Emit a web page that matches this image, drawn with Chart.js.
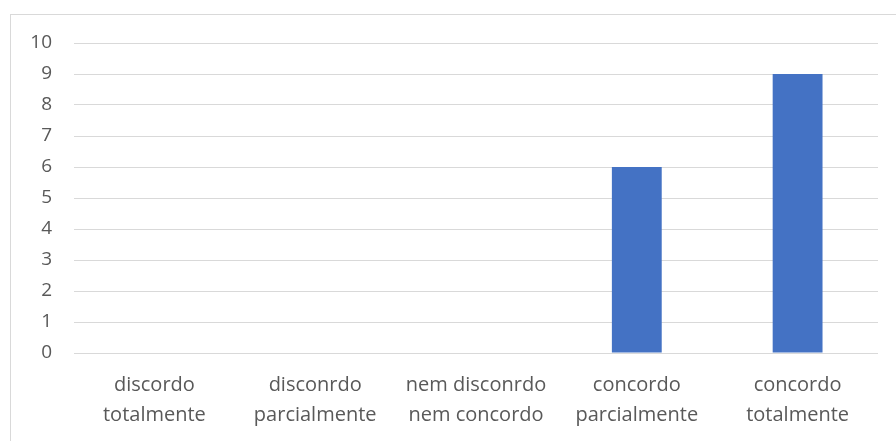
<!DOCTYPE html>
<html>
<head>
<meta charset="utf-8">
<script src="https://cdn.jsdelivr.net/npm/chart.js@4"></script>
<style>
  html, body { margin: 0; padding: 0; background: #fff; }
  #wrap { position: relative; width: 896px; height: 441px; overflow: hidden; }
  #frame { position: absolute; left: 10px; top: 14px; width: 900px; height: 440px; border: 1px solid #d9d9d9; }
  canvas { position: absolute; left: 0; top: 0; }
</style>
</head>
<body>
<div id="wrap">
  <div id="frame"></div>
  <canvas id="mainChart" width="896" height="441"></canvas>
</div>
<script>
const categories = [
  ['discordo', 'totalmente'],
  ['disconrdo', 'parcialmente'],
  ['nem disconrdo', 'nem concordo'],
  ['concordo', 'parcialmente'],
  ['concordo', 'totalmente'],
];
const values = [0, 0, 0, 6, 9];
const yTicks = [0, 1, 2, 3, 4, 5, 6, 7, 8, 9, 10];

const textColor = '#595959';
const fontFamily = "'Open Sans', 'Noto Sans', sans-serif";

const ctx = document.getElementById('mainChart').getContext('2d');

new Chart(ctx, {
  type: 'bar',
  data: {
    labels: categories,
    datasets: [
      {
        data: values,
        backgroundColor: '#4472c4',
        borderWidth: 0,
        barPercentage: 0.31,
        categoryPercentage: 1,
      },
    ],
  },
  options: {
    responsive: false,
    animation: false,
    layout: { padding: { left: 0, top: 43, right: 18, bottom: 0 } },
    plugins: {
      legend: { display: false },
      tooltip: { enabled: false },
    },
    scales: {
      x: {
        grid: { display: false, drawTicks: false },
        border: { display: false },
        ticks: {
          color: textColor,
          font: { family: fontFamily, size: 20, lineHeight: 1.5 },
          padding: 17,
          maxRotation: 0,
          autoSkip: false,
        },
        afterFit: (scale) => { scale.height = 88; },
      },
      y: {
        min: 0,
        max: 10,
        afterBuildTicks: (scale) => {
          scale.ticks = yTicks.map((v) => ({ value: v }));
        },
        grid: { color: '#d9d9d9', lineWidth: 1, drawTicks: false },
        border: { display: false },
        ticks: {
          color: textColor,
          font: { family: fontFamily, size: 19 },
          padding: 22,
        },
        afterFit: (scale) => { scale.width = 74; },
      },
    },
  },
});
</script>
</body>
</html>
